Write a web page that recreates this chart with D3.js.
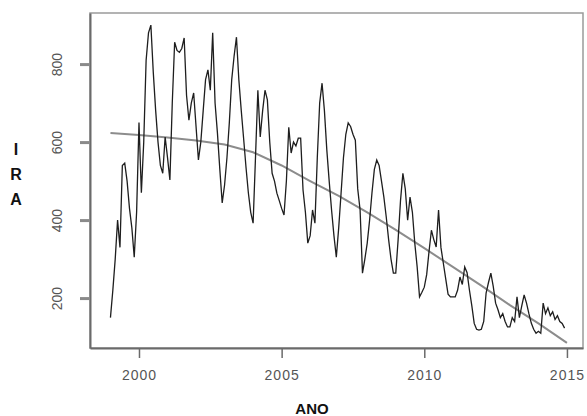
<!DOCTYPE html>
<html>
<head>
<meta charset="utf-8">
<script src="https://cdn.jsdelivr.net/npm/d3@7"></script>
<style>
  body { margin: 0; background: #fff; }
  svg { display: block; font-family: "Liberation Sans", Arial, sans-serif; }
</style>
</head>
<body>
<svg id="chart" width="587" height="416"></svg>
<script>
// serie mensal do IRA, jan/1999 a dez/2014 (uma linha por ano)
var anoInicio = 1999;
var ira = [
  150, 220, 300, 400, 330, 540, 546, 500, 430, 380, 305, 420,   // 1999
  650, 470, 600, 810, 880, 900, 780, 682, 600, 540, 520, 613,   // 2000
  560, 503, 700, 856, 835, 830, 840, 867, 720, 656, 700, 726,   // 2001
  640, 554, 600, 680, 760, 785, 733, 880, 700, 623, 530, 444,   // 2002
  490, 560, 650, 760, 820, 869, 760, 682, 610, 536, 470, 420,   // 2003
  392, 560, 733, 613, 680, 733, 708, 600, 520, 500, 469, 450,   // 2004
  430, 413, 500, 638, 572, 600, 590, 610, 610, 477, 420, 341,   // 2005
  360, 426, 392, 560, 700, 751, 680, 580, 500, 426, 360, 305,   // 2006
  380, 469, 560, 620, 649, 640, 620, 605, 480, 426, 264, 300,   // 2007
  341, 400, 470, 530, 554, 540, 500, 459, 408, 350, 300, 264,   // 2008
  264, 350, 450, 520, 480, 400, 459, 420, 341, 280, 203, 215,   // 2009
  228, 260, 320, 374, 350, 331, 426, 330, 290, 250, 210, 203,   // 2010
  203, 203, 220, 254, 235, 280, 265, 220, 180, 135, 120, 118,   // 2011
  120, 140, 213, 240, 264, 230, 187, 170, 150, 160, 140, 126,   // 2012
  126, 150, 140, 203, 150, 180, 208, 187, 160, 136, 120, 110,   // 2013
  115, 110, 187, 160, 175, 155, 165, 145, 155, 140, 135, 123    // 2014
];

// tendencia (linha cinza)
var tendAnos    = [1999, 2000, 2001, 2002, 2003, 2004, 2005, 2006, 2007, 2008, 2009, 2010, 2011, 2012, 2013, 2014, 2015];
var tendValores = [623, 618, 612, 604, 594, 574, 540, 500, 462, 420, 375, 328, 280, 232, 182, 135, 85];

var xTicks = [2000, 2005, 2010, 2015];
var yTicks = [200, 400, 600, 800];

var serie = ira.map(function(v, i){ return {ano: anoInicio + i/12, valor: v}; });
var tend = tendAnos.map(function(a, i){ return {ano: a, valor: tendValores[i]}; });

var svg = d3.select("#chart");
var margem = {esq: 90, dir: 583, topo: 13, base: 348};

var x = d3.scaleLinear().domain([1998.283, 2015.563]).range([margem.esq, margem.dir]);
var y = d3.scaleLinear().domain([72, 931]).range([margem.base, margem.topo]);

// caixa
svg.append("rect")
  .attr("x", margem.esq).attr("y", margem.topo)
  .attr("width", margem.dir - margem.esq).attr("height", margem.base - margem.topo)
  .attr("fill", "none").attr("stroke", "#9a9a9a").attr("stroke-width", 1.5);

var line = d3.line()
  .x(function(d){ return x(d.ano); })
  .y(function(d){ return y(d.valor); });

svg.append("path").datum(tend)
  .attr("d", line)
  .attr("fill", "none")
  .attr("stroke", "#8c8c8c")
  .attr("stroke-width", 2);

svg.append("path").datum(serie)
  .attr("d", line)
  .attr("fill", "none")
  .attr("stroke", "#1e1e1e")
  .attr("stroke-width", 1.3)
  .attr("stroke-linejoin", "miter");

// eixo x
var gx = svg.append("g")
  .attr("transform", "translate(0," + margem.base + ")")
  .call(d3.axisBottom(x).tickValues(xTicks).tickSize(10).tickSizeOuter(0).tickFormat(d3.format("d")));
gx.select(".domain").attr("stroke", "#6a6a6a").attr("stroke-width", 2);
gx.selectAll(".tick line").attr("stroke", "#6a6a6a").attr("stroke-width", 1.5);
gx.selectAll(".tick text")
  .attr("y", 32).attr("dy", 0)
  .attr("fill", "#555")
  .style("font-size", "14px")
  .style("letter-spacing", "1px");

// eixo y
var gy = svg.append("g")
  .attr("transform", "translate(" + margem.esq + ",0)")
  .call(d3.axisLeft(y).tickValues(yTicks).tickSize(10).tickSizeOuter(0).tickFormat(d3.format("d")));
gy.select(".domain").attr("stroke", "#6a6a6a").attr("stroke-width", 2);
gy.selectAll(".tick line").attr("stroke", "#8a8a8a").attr("stroke-width", 3);
gy.selectAll(".tick text")
  .attr("transform", "rotate(-90)")
  .attr("x", 0).attr("y", -28).attr("dy", 0)
  .attr("text-anchor", "middle")
  .attr("fill", "#555")
  .style("font-size", "14px");

// titulos dos eixos
svg.append("text")
  .attr("x", 312).attr("y", 414)
  .attr("text-anchor", "middle")
  .style("font-size", "15px").style("font-weight", "bold")
  .attr("fill", "#111")
  .text("ANO");

var rotulo = ["I", "R", "A"];
svg.selectAll("text.ylab").data(rotulo).enter().append("text")
  .attr("class", "ylab")
  .attr("x", 16)
  .attr("y", function(d, i){ return 155 + i * 25; })
  .attr("text-anchor", "middle")
  .style("font-size", "16px").style("font-weight", "bold")
  .attr("fill", "#111")
  .text(function(d){ return d; });
</script>
</body>
</html>
